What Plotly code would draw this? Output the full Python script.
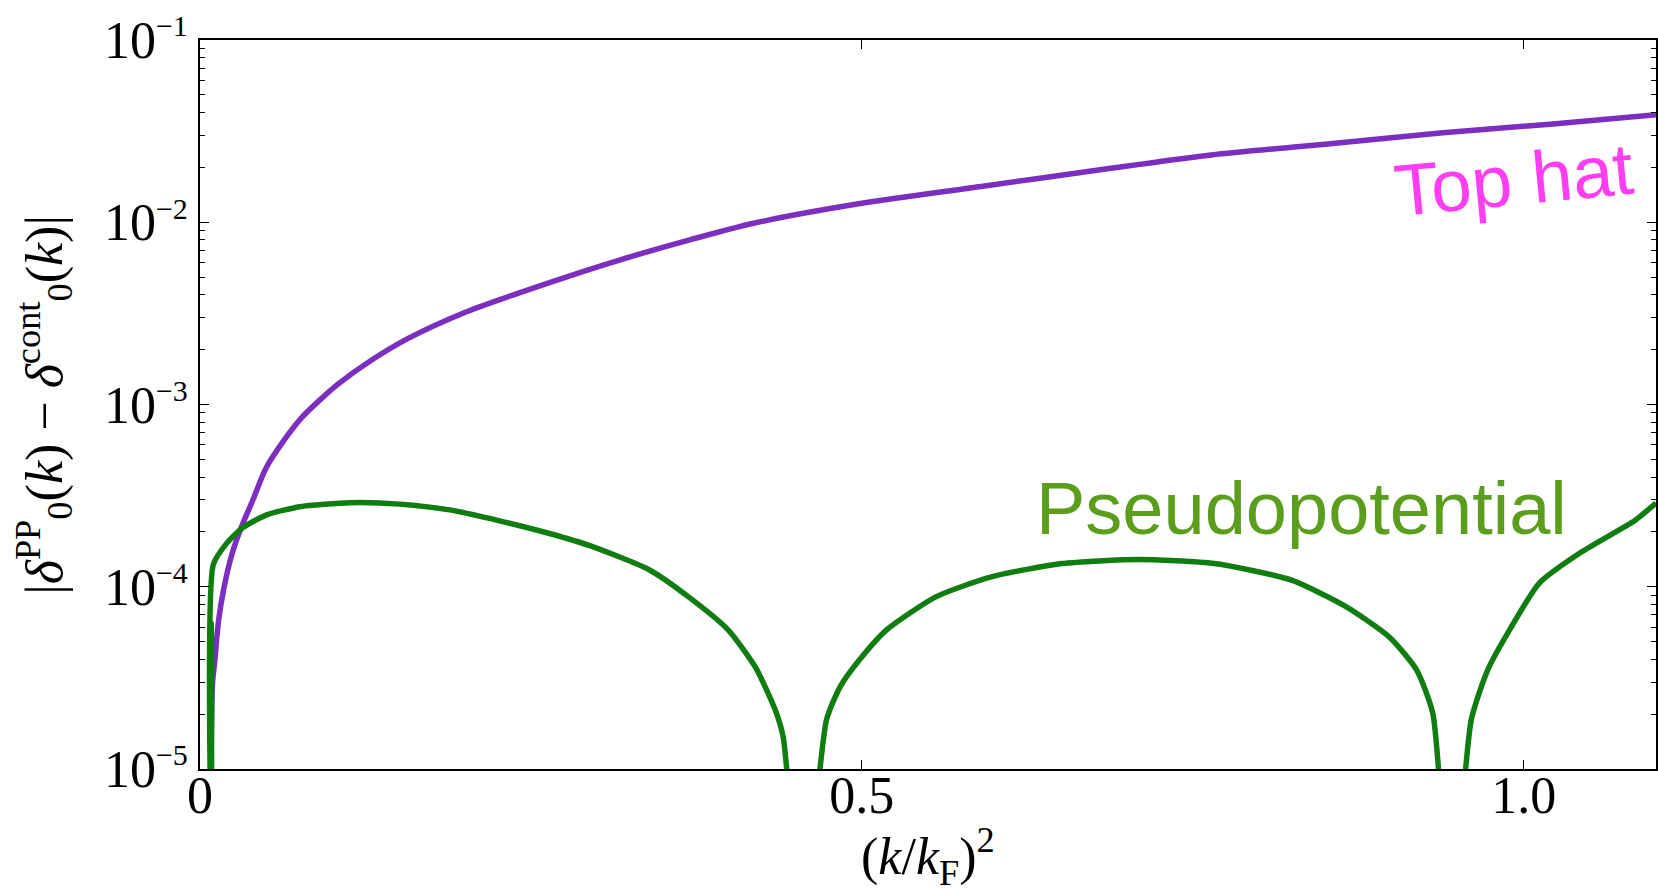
import plotly.graph_objects as go

# (k/kF)^2 sample points and |delta_PP - delta_cont| for the top-hat potential
k2_tophat = [0.008, 0.0095, 0.011, 0.014, 0.018, 0.024, 0.031, 0.040, 0.050, 0.063,
             0.077, 0.090, 0.104, 0.130, 0.158, 0.200, 0.239, 0.280, 0.320, 0.370,
             0.419, 0.500, 0.590, 0.680, 0.764, 0.850, 0.939, 1.020, 1.100]
err_tophat = [5e-6, 3.0e-5, 3.8e-5, 6.5e-5, 9.8e-5, 1.5e-4, 2.1e-4, 3.0e-4, 4.5e-4, 6.3e-4,
              8.5e-4, 1.05e-3, 1.29e-3, 1.76e-3, 2.32e-3, 3.2e-3, 4.05e-3, 5.1e-3, 6.3e-3, 8.0e-3,
              9.9e-3, 1.27e-2, 1.57e-2, 1.94e-2, 2.34e-2, 2.68e-2, 3.1e-2, 3.45e-2, 3.89e-2]

# same quantity for the pseudopotential
k2_pseudo = [0.0075, 0.0085, 0.0090, 0.0100, 0.0201, 0.0327, 0.0503, 0.0754, 0.1132, 0.1509,
             0.1886, 0.2263, 0.264, 0.2945, 0.3393, 0.3691, 0.399, 0.4198, 0.4347, 0.4406,
             0.455, 0.4733, 0.4837, 0.4981, 0.5187, 0.5559, 0.5971, 0.6508, 0.7087, 0.7664,
             0.8242, 0.8655, 0.8985, 0.9191, 0.9315, 0.945, 0.9604, 0.9729, 0.9894, 1.012,
             1.0436, 1.0843, 1.1]
err_pseudo = [2e-6, 6.3e-5, 2e-6, 1.32e-4, 1.73e-4, 2.12e-4, 2.48e-4, 2.75e-4, 2.89e-4, 2.84e-4,
              2.64e-4, 2.30e-4, 1.96e-4, 1.68e-4, 1.24e-4, 8.8e-5, 5.8e-5, 3.6e-5, 2.1e-5, 1.5e-5,
              1.5e-6, 1.86e-5, 2.83e-5, 3.96e-5, 5.8e-5, 8.8e-5, 1.13e-4, 1.34e-4, 1.41e-4, 1.34e-4,
              1.09e-4, 7.8e-5, 5.3e-5, 3.5e-5, 2.0e-5, 1.5e-6, 1.86e-5, 3.5e-5, 5.8e-5, 1.05e-4,
              1.55e-4, 2.32e-4, 2.88e-4]

x_tick_vals = [0, 0.5, 1.0]
x_tick_text = ["0", "0.5", "1.0"]
y_exponents = [-5, -4, -3, -2, -1]
y_tick_vals = [10.0 ** e for e in y_exponents]
y_tick_text = ["10<sup><span style='font-size:30px'>\u2212%d</span></sup>" % -e for e in y_exponents]
y_minor_vals = [m * 10.0 ** e for e in y_exponents[:-1] for m in range(2, 10)]

PURPLE = "#7b2ec0"
GREEN = "#0f7d0f"
SERIF = "Liberation Serif, Times New Roman, serif"
SANS = "Liberation Sans, Arial, sans-serif"

fig = go.Figure()
fig.add_trace(go.Scatter(x=k2_tophat, y=err_tophat, mode="lines",
                         line=dict(color=PURPLE, width=5.5, shape="spline", smoothing=0.8),
                         hoverinfo="skip"))
fig.add_trace(go.Scatter(x=k2_pseudo, y=err_pseudo, mode="lines",
                         line=dict(color=GREEN, width=5.5, shape="spline", smoothing=0.6),
                         hoverinfo="skip"))

axis_common = dict(
    showline=True, linecolor="black", linewidth=1.5, mirror="ticks",
    ticks="inside", ticklen=9, tickwidth=1.2, tickcolor="black",
    showgrid=False, zeroline=False,
    tickfont=dict(family=SERIF, size=52, color="black"),
)

fig.update_xaxes(range=[0, 1.1], tickvals=x_tick_vals, ticktext=x_tick_text,
                 ticklabelstandoff=-20, **axis_common)
fig.update_yaxes(type="log", range=[-5, -1], tickvals=y_tick_vals, ticktext=y_tick_text,
                 minor=dict(tickvals=y_minor_vals, ticks="inside", ticklen=5,
                            tickwidth=1, tickcolor="black", showgrid=False),
                 **axis_common)

fig.add_annotation(text="(<i>k</i>/<i>k</i><sub>F</sub>)<sup>2</sup>",
                   xref="paper", yref="paper", x=0.5, y=-0.12,
                   xanchor="center", yanchor="middle", showarrow=False,
                   font=dict(family=SERIF, size=52, color="black"))
fig.add_annotation(text="|<i>\u03b4</i><sup>PP</sup><sub>0</sub>(<i>k</i>) \u2212 "
                        "<i>\u03b4</i><sup>cont</sup><sub>0</sub>(<i>k</i>)|",
                   xref="paper", yref="paper", x=-0.107, y=0.5, textangle=-90,
                   xanchor="center", yanchor="middle", showarrow=False,
                   font=dict(family=SERIF, size=52, color="black"))

fig.add_annotation(text="Top hat", x=0.992, y=-1.768, textangle=-5.5,
                   xanchor="center", yanchor="middle", showarrow=False,
                   font=dict(family=SANS, size=73, color="#ff3df2"))
fig.add_annotation(text="Pseudopotential", x=0.832, y=-3.568,
                   xanchor="center", yanchor="middle", showarrow=False,
                   font=dict(family=SANS, size=74, color="#5a9e1c"))

fig.update_layout(
    width=1658, height=893,
    margin=dict(l=200, r=0, t=40, b=124),
    paper_bgcolor="white", plot_bgcolor="white",
    showlegend=False,
)

fig.write_html("out.html")
